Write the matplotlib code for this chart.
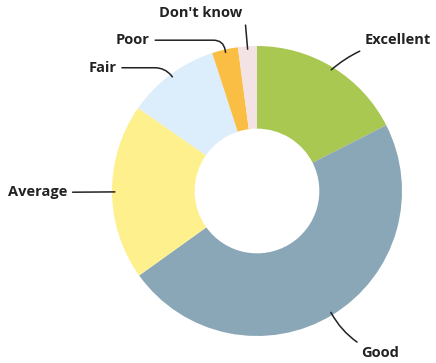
import numpy as np
import matplotlib.pyplot as plt

labels = ["Excellent", "Good", "Average", "Fair", "Poor", "Don't know"]
shares = [17.5, 47.6, 19.6, 10.3, 2.9, 2.1]
colors = ["#a9c852", "#8aa7b8", "#fff08e", "#dcedfb", "#fbbe45", "#f3e3e5"]

# label placement (data units, pie radius = 1) and leader shape
label_pos = {
    "Excellent": (0.74, 1.04, "left", "arc3,rad=0.15"),
    "Good": (0.72, -1.12, "left", "arc3,rad=-0.2"),
    "Average": (-1.31, -0.01, "right", "arc3,rad=0"),
    "Fair": (-0.97, 0.85, "right", "angle,angleA=0,angleB=130,rad=10"),
    "Poor": (-0.74, 1.04, "right", "angle,angleA=0,angleB=100,rad=10"),
    "Don't know": (-0.10, 1.23, "right", "angle,angleA=0,angleB=95,rad=6"),
}

plt.rcParams['font.family'] = ['Open Sans', 'DejaVu Sans']

fig = plt.figure(figsize=(4.36, 3.63), dpi=100)
ax = fig.add_axes([0, 0, 1, 1])
wedges, _ = ax.pie(shares, colors=colors, startangle=90, counterclock=False,
                   radius=1.0, wedgeprops=dict(width=0.57, linewidth=0))

for w, name in zip(wedges, labels):
    mid = np.deg2rad((w.theta1 + w.theta2) / 2)
    px, py = 0.98 * np.cos(mid), 0.98 * np.sin(mid)
    tx, ty, ha, conn = label_pos[name]
    ax.annotate(name, xy=(px, py), xytext=(tx, ty), ha=ha, va="center",
                fontsize=10.5, fontweight="bold", color="#222222",
                arrowprops=dict(arrowstyle="-", connectionstyle=conn,
                                color="#222222", lw=1.1, shrinkA=2, shrinkB=0))

# 145 px per unit, pie centre at (257, 191) px
s = 145.0
ax.set_xlim(-257 / s, (436 - 257) / s)
ax.set_ylim(-(363 - 191) / s, 191 / s)
ax.set_aspect("auto")
ax.axis("off")

fig.savefig("out.png", dpi=100, facecolor="white")
